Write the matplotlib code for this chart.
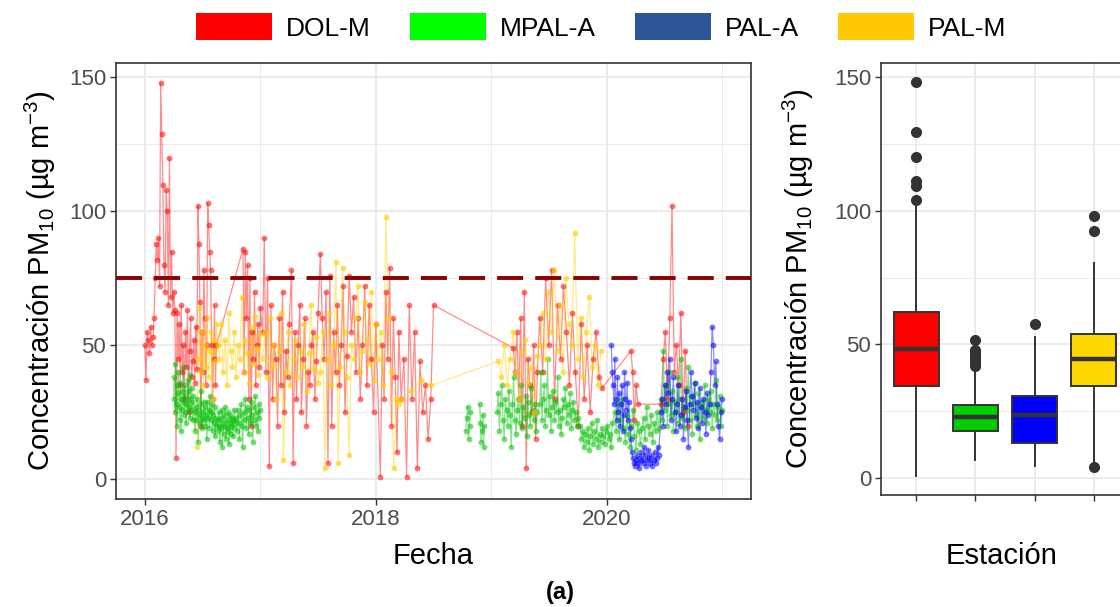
import numpy as np
import matplotlib
matplotlib.use('Agg')
import matplotlib.pyplot as plt
from matplotlib.patches import Patch

plt.rcParams['font.family'] = ['Liberation Sans', 'DejaVu Sans']
plt.rcParams['mathtext.fontset'] = 'custom'
plt.rcParams['mathtext.rm'] = 'Liberation Sans'
plt.rcParams['mathtext.it'] = 'Liberation Sans:italic'
plt.rcParams['mathtext.default'] = 'regular'

# ---------------- data ----------------
stations = ['DOL-M', 'MPAL-A', 'PAL-A', 'PAL-M']
limit_value = 75

# segments: (start decimal year, end decimal year); None = gap in record
dol_segments = [
    (2016.00, 2016.07, [50, 37, 55, 52, 47, 57, 50, 53]),
    (2016.08, 2016.26, [60, 75, 88, 82, 90, 72, 148, 129, 110, 80, 70, 108, 100, 65, 120, 68, 85, 62, 70, 63]),
    (2016.27, 2016.45, [8, 62, 45, 58, 35, 65, 40, 50, 30, 55, 42, 63, 25, 48, 60, 38, 44, 52, 36, 57, 41]),
    (2016.46, 2016.62, [102, 88, 66, 20, 55, 40, 78, 60, 35, 50, 103, 95, 85, 78, 50, 30, 45, 65, 35, 50]),
    (2016.85, 2017.00, [86, 40, 85, 60, 80, 30, 75, 20, 55, 45, 70, 35, 50, 58, 42, 64]),
    (2017.02, 2017.25, [55, 90, 40, 75, 5, 65, 30, 50, 45, 20, 60, 35, 70, 25, 48, 38, 58]),
    (2017.27, 2017.50, [78, 6, 55, 30, 50, 65, 25, 45, 60, 20, 40, 35, 50, 55, 30, 44, 62]),
    (2017.52, 2017.75, [84, 60, 45, 70, 6, 76, 20, 55, 40, 65, 35, 50, 72, 25, 46]),
    (2017.77, 2018.00, [76, 55, 68, 40, 60, 30, 50, 72, 35, 65, 45, 25, 58]),
    (2018.04, 2018.20, [1, 50, 30, 70, 45, 79, 20, 60, 38, 10, 55]),
    (2018.22, 2018.50, [30, 45, 1, 65, 30, 55, 4, 44, 25, 35, 15, 30, 65]),
    (2019.19, 2019.40, [49, 40, 55, 30, 60, 20, 70, 4, 45, 35, 25, 50, 15, 40]),
    (2019.42, 2019.96, [60, 40, 75, 50, 78, 30, 65, 45, 72, 55, 35, 62, 40, 20, 58, 30, 50, 25, 45, 55, 38, 34]),
    (2020.21, 2020.27, [48, 40, 22, 35, 28]),
    (2020.47, 2020.70, [28, 45, 55, 30, 60, 102, 40, 50, 35, 62, 25, 48, 20]),
]
mpal_segments = [
    (2016.25, 2016.42, [30, 38, 25, 43, 28, 35, 20, 32, 40, 27, 22, 36, 30, 18, 33, 26, 42, 29, 24, 31,
                        35, 21, 28, 25, 33, 37, 27, 30, 23, 39, 26, 34, 29, 22, 31]),
    (2016.43, 2016.62, [25, 18, 27, 22, 30, 26, 14, 24, 21, 28, 33, 23, 19, 25, 29, 22, 27, 20, 24, 15,
                        29, 23, 26, 19, 31, 25, 22, 28, 18, 24, 21, 27, 16, 23, 20]),
    (2016.63, 2016.78, [22, 18, 25, 20, 14, 23, 19, 26, 12, 21, 17, 24, 20, 27, 15, 22, 19, 25, 18, 13,
                        21, 24, 17, 20, 23, 16, 22, 19, 26, 21]),
    (2016.79, 2017.00, [23, 18, 26, 21, 15, 24, 28, 20, 12, 25, 22, 30, 19, 27, 23, 17, 26, 21, 29, 24,
                        14, 22, 27, 31, 20, 25, 18, 28, 23, 26]),
    None,
    (2018.78, 2018.82, [18, 23, 27, 15, 20, 25]),
    None,
    (2018.90, 2018.94, [28, 21, 14, 18, 24, 12, 20]),
    None,
    (2019.05, 2019.40, [25, 32, 18, 28, 35, 22, 15, 30, 26, 20, 33, 24, 12, 28, 38, 22, 17, 26, 30, 21,
                        35, 19, 27, 23, 31, 16, 29, 24, 20, 34, 26, 22, 28, 18, 25]),
    (2019.42, 2019.75, [28, 40, 22, 30, 35, 20, 26, 45, 24, 31, 18, 27, 33, 22, 29, 25, 38, 20, 26, 17,
                        23, 30, 27, 34, 21, 28, 24, 32, 19, 26, 29, 22, 25, 20, 23]),
    (2019.77, 2020.05, [20, 15, 18, 12, 17, 14, 19, 11, 16, 21, 13, 18, 15, 22, 12, 17, 14, 19, 16, 13,
                        18, 20, 15, 17, 12, 21]),
    (2020.07, 2020.45, [25, 18, 28, 15, 22, 30, 19, 14, 24, 17, 12, 20, 26, 16, 11, 21, 18, 13, 19, 23,
                        15, 27, 20, 17, 24, 14, 21, 18, 25, 19]),
    (2020.47, 2021.00, [30, 22, 48, 26, 35, 20, 28, 40, 24, 33, 18, 29, 25, 38, 21, 30, 45, 23, 27, 19,
                        34, 26, 42, 22, 31, 17, 28, 36, 24, 20, 32, 15, 27, 29, 23, 35, 26, 21, 30, 25,
                        33, 19, 28, 24, 37, 22, 27, 31, 20, 26]),
]
pala_segments = [
    (2020.04, 2020.20, [50, 40, 35, 28, 45, 30, 22, 38, 25, 32, 20, 28, 35, 18, 24, 40, 30, 26, 36, 22,
                        29, 19]),
    (2020.21, 2020.45, [15, 10, 8, 6, 5, 7, 9, 6, 4, 8, 10, 7, 6, 12, 9, 5, 7, 11, 8, 6,
                        9, 5, 7, 10, 6, 8, 12, 9]),
    (2020.47, 2021.00, [25, 30, 20, 35, 28, 40, 32, 45, 22, 30, 38, 25, 18, 28, 35, 20, 24, 30, 15, 27,
                        33, 22, 12, 28, 40, 31, 26, 36, 23, 29, 19, 34, 27, 21, 30, 25, 17, 32, 24, 28,
                        40, 57, 50, 35, 44, 28, 20, 15, 25, 30]),
]
palm_segments = [
    (2016.45, 2016.62, [12, 45, 64, 40, 55, 35, 50, 42, 60, 38, 48, 55, 30, 52, 44, 58]),
    (2016.63, 2017.00, [50, 45, 58, 40, 52, 35, 62, 48, 42, 55, 38, 50, 45, 68, 40, 52, 47, 36,
                        57, 43, 61, 49, 39, 54]),
    (2017.02, 2017.50, [45, 55, 38, 60, 42, 50, 30, 48, 62, 7, 40, 55, 35, 45, 52, 38, 48, 42, 58, 33,
                        47, 65, 41, 53, 36]),
    (2017.52, 2018.00, [40, 55, 4, 45, 62, 35, 50, 81, 6, 42, 79, 55, 38, 9, 50, 45, 60, 72, 40, 48,
                        66, 52, 43, 70, 37, 58]),
    (2018.02, 2018.20, [45, 55, 35, 98, 60, 40, 4, 30, 28]),
    (2018.22, 2018.48, [30, 33, 37, 35]),
    (2019.06, 2019.40, [44, 38, 50, 35, 45, 55, 40, 30, 48, 52, 36, 42, 25, 46]),
    (2019.42, 2019.95, [50, 62, 45, 70, 55, 78, 48, 65, 40, 75, 58, 50, 92, 45, 60, 38, 55, 68, 42, 50, 35, 48]),
]

# boxplot statistics
box_q1 = [34.3, 17.6, 13.0, 34.3]
box_med = [48.4, 22.9, 23.4, 44.3]
box_q3 = [62.0, 27.4, 30.5, 54.0]
box_whislo = [0.8, 6.8, 4.5, 6.0]
box_whishi = [102.7, 41.0, 52.6, 80.6]
box_fliers = [[104.0, 109.4, 111.0, 120.3, 129.4, 148.4],
              [42.0, 43.0, 44.0, 45.0, 46.0, 47.0, 48.0, 51.7],
              [57.4],
              [4.1, 92.3, 98.0]]

# ---------------- styles ----------------
line_colors = ['#FF0000', '#00C000', '#0000FF', '#FFD000']
point_alpha = [0.55, 0.55, 0.55, 0.65]
box_colors = ['#FF0000', '#00CC00', '#0000FF', '#FFD700']
legend_colors = ['#FF0000', '#00FF00', '#2B5597', '#FFC800']
dark = '#333333'
grid_c = '#EBEBEB'
tick_c = '#4D4D4D'


def expand(segments):
    d, v = [], []
    for seg in segments:
        if seg is None:
            d.append(np.nan)
            v.append(np.nan)
            continue
        s, e, vals = seg
        d.extend(np.linspace(s, e, len(vals)))
        v.extend(vals)
    return np.array(d, dtype=float), np.array(v, dtype=float)


series = [expand(dol_segments), expand(mpal_segments), expand(pala_segments), expand(palm_segments)]

W, H = 1120, 607
fig = plt.figure(figsize=(W / 100, H / 100), dpi=100)


def style_axes(ax):
    for sp in ax.spines.values():
        sp.set_color(dark)
        sp.set_linewidth(1.2)
    ax.tick_params(which='major', length=4, width=1.0, color=dark, labelcolor=tick_c,
                   labelsize=16, pad=3)
    ax.tick_params(which='minor', length=0)
    ax.grid(which='major', color=grid_c, lw=1.4)
    ax.grid(which='minor', color=grid_c, lw=0.7)
    ax.set_axisbelow(True)


# left panel: time series
ax1 = fig.add_axes([116 / W, 1 - 499 / H, 635 / W, 436 / H])
ax1.set_xlim(2015.75, 2021.25)
ax1.set_ylim(-7.4, 155.4)
ax1.set_xticks([2016, 2018, 2020])
ax1.set_xticklabels(['2016', '2018', '2020'])
ax1.set_xticks([2017, 2019, 2021], minor=True)
ax1.set_yticks([0, 50, 100, 150])
ax1.set_yticks([25, 75, 125], minor=True)
style_axes(ax1)

for (d, v), c in zip(series, line_colors):
    ax1.plot(d, v, color=c, lw=0.9, alpha=0.45, zorder=2)
for (d, v), c, a in zip(series, line_colors, point_alpha):
    ax1.plot(d, v, ls='none', marker='o', ms=4.2, mew=0, color=c, alpha=a, zorder=3)

ax1.axhline(limit_value, color='#8B0000', lw=2.8, dashes=(6.7, 3.1), zorder=4)

# right panel: boxplots
ax2 = fig.add_axes([881 / W, 1 - 495 / H, 248 / W, 432 / H])
ax2.set_xlim(0.4, 4.6)
ax2.set_ylim(-6.5, 155.4)
ax2.set_yticks([0, 50, 100, 150])
ax2.set_yticks([25, 75, 125], minor=True)
style_axes(ax2)

stats = []
for i, name in enumerate(stations):
    stats.append(dict(label=name, q1=box_q1[i], med=box_med[i], q3=box_q3[i],
                      whislo=box_whislo[i], whishi=box_whishi[i], fliers=box_fliers[i]))
bp = ax2.bxp(stats, positions=[1, 2, 3, 4], widths=0.75, patch_artist=True, showcaps=False,
             boxprops=dict(edgecolor=dark, linewidth=1.4),
             medianprops=dict(color=dark, linewidth=3.2, solid_capstyle='butt'),
             whiskerprops=dict(color=dark, linewidth=1.4),
             flierprops=dict(marker='o', markerfacecolor=dark, markeredgecolor=dark, markersize=7))
for patch, c in zip(bp['boxes'], box_colors):
    patch.set_facecolor(c)
ax2.set_xticks([1, 2, 3, 4])
ax2.set_xticklabels([])
ax2.set_xlim(0.4, 4.6)

# texts
ylab = 'Concentración PM$_{10}$ (µg m$^{-3}$)'
fig.text(40 / W, 1 - 281 / H, ylab, rotation=90, ha='center', va='center', fontsize=21)
fig.text(798 / W, 1 - 279 / H, ylab, rotation=90, ha='center', va='center', fontsize=21)
fig.text(433 / W, 1 - 556 / H, 'Fecha', ha='center', va='center', fontsize=21)
fig.text(1002 / W, 1 - 556 / H, 'Estación', ha='center', va='center', fontsize=21)
fig.text(560 / W, 1 - 592 / H, '(a)', ha='center', va='center', fontsize=17, fontweight='bold')

handles = [Patch(facecolor=c, edgecolor='none') for c in legend_colors]
fig.legend(handles, stations, loc='center', bbox_to_anchor=(601 / W, 1 - 27 / H), ncol=4,
           frameon=False, fontsize=19, handlelength=2.88, handleheight=1.17,
           handletextpad=0.53, columnspacing=1.48, borderaxespad=0, borderpad=0)

fig.savefig('out.png', dpi=100)
